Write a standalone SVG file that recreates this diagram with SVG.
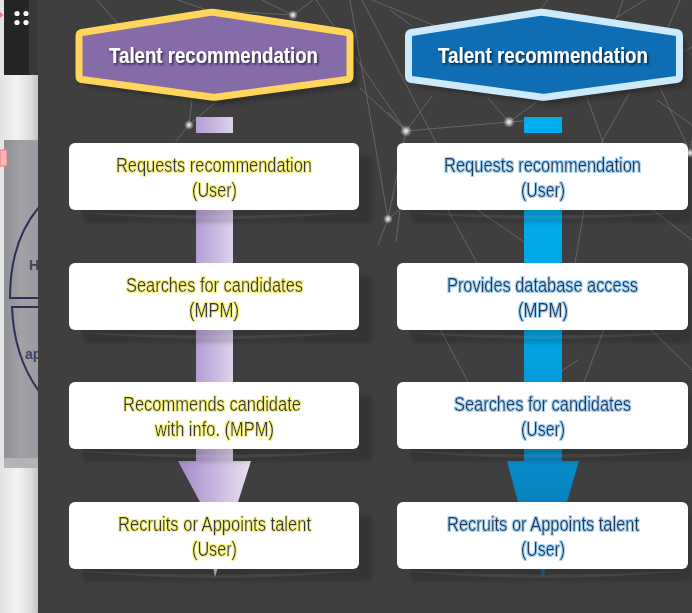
<svg xmlns="http://www.w3.org/2000/svg" width="692" height="613" viewBox="0 0 692 613">
  <defs>
    <style>
      .net { stroke: #8c8c8c; stroke-width: 1; stroke-opacity: 0.5; fill: none; }
      .box { fill: #ffffff; }
      .boxShadow { fill: #000000; fill-opacity: 0.16; }
      .sheen { fill: #ffffff; fill-opacity: 0.08; }
      .title { font-family: "Liberation Sans", Arial, sans-serif; font-weight: bold; font-size: 21.5px; fill: #ffffff; text-anchor: middle; }
      .lbl { font-family: "Liberation Sans", Arial, sans-serif; font-size: 19.5px; text-anchor: middle; }
      .lblL { fill: #383842; }
      .lblR { fill: #27395a; }
    </style>
    <linearGradient id="sideGrad" x1="0" y1="0" x2="1" y2="0">
      <stop offset="0" stop-color="#e2e2e2"/>
      <stop offset="0.45" stop-color="#f3f3f3"/>
      <stop offset="0.8" stop-color="#dedede"/>
      <stop offset="1" stop-color="#c4c4c4"/>
    </linearGradient>
    <linearGradient id="panelGrad" x1="0" y1="0" x2="1" y2="0">
      <stop offset="0" stop-color="#8f8f96"/>
      <stop offset="0.5" stop-color="#a0a0a6"/>
      <stop offset="1" stop-color="#9a9aa0"/>
    </linearGradient>
    <linearGradient id="barL" gradientUnits="userSpaceOnUse" x1="196" y1="0" x2="233" y2="0">
      <stop offset="0" stop-color="#b49dd4"/>
      <stop offset="1" stop-color="#ddd2eb"/>
    </linearGradient>
    <linearGradient id="headL" gradientUnits="userSpaceOnUse" x1="178" y1="0" x2="251" y2="0">
      <stop offset="0" stop-color="#a689c8"/>
      <stop offset="1" stop-color="#e8e1f1"/>
    </linearGradient>
    <linearGradient id="barR" gradientUnits="userSpaceOnUse" x1="0" y1="117" x2="0" y2="576">
      <stop offset="0" stop-color="#00b0f0"/>
      <stop offset="0.5" stop-color="#02a2e2"/>
      <stop offset="0.75" stop-color="#078ccb"/>
      <stop offset="1" stop-color="#066ea4"/>
    </linearGradient>
    <radialGradient id="nodeGlow">
      <stop offset="0" stop-color="#ffffff" stop-opacity="0.95"/>
      <stop offset="0.35" stop-color="#dddddd" stop-opacity="0.8"/>
      <stop offset="1" stop-color="#aaaaaa" stop-opacity="0"/>
    </radialGradient>
    <filter id="soft" x="-10%" y="-10%" width="120%" height="130%">
      <feGaussianBlur stdDeviation="2"/>
    </filter>
    <filter id="titleShadow" x="-5%" y="-30%" width="110%" height="160%">
      <feDropShadow dx="1.5" dy="1.8" stdDeviation="1" flood-color="#000000" flood-opacity="0.65"/>
    </filter>
    <filter id="glowY" x="-5%" y="-30%" width="110%" height="160%">
      <feMorphology in="SourceAlpha" operator="dilate" radius="1" result="d"/>
      <feGaussianBlur in="d" stdDeviation="0.6" result="b"/>
      <feFlood flood-color="#f8f27e"/>
      <feComposite in2="b" operator="in" result="g"/>
      <feMerge><feMergeNode in="g"/><feMergeNode in="SourceGraphic"/></feMerge>
    </filter>
    <filter id="glowB" x="-5%" y="-30%" width="110%" height="160%">
      <feMorphology in="SourceAlpha" operator="dilate" radius="1" result="d"/>
      <feGaussianBlur in="d" stdDeviation="0.7" result="b"/>
      <feFlood flood-color="#a6d6f7"/>
      <feComposite in2="b" operator="in" result="g"/>
      <feMerge><feMergeNode in="g"/><feMergeNode in="SourceGraphic"/></feMerge>
    </filter>
    <path id="hex" d="M 79 36 Q 79 33 82 32.5 L 209 12.5 Q 212 12 215 12.5 L 347 32.5 Q 350 33 350 36 L 350 76 Q 350 79 347 79.5 L 217 97 Q 214 97.5 211 97 L 82 79.5 Q 79 79 79 76 Z"/>
    <clipPath id="panelClip"><rect x="4" y="140" width="34" height="328"/></clipPath>
  </defs>

  <!-- stage background -->
  <rect x="0" y="0" width="692" height="613" fill="#3f3f3f"/>

  <!-- neighbouring window strip on the left -->
  <g id="side-panel">
    <rect x="0" y="0" width="38" height="613" fill="url(#sideGrad)"/>
    <rect x="4" y="0" width="34" height="75" fill="#252525"/>
    <rect x="29" y="0" width="9" height="75" fill="#383838"/>
    <circle cx="17" cy="13.5" r="2.6" fill="#ffffff"/>
    <circle cx="26" cy="13.5" r="2.6" fill="#ffffff"/>
    <circle cx="17" cy="22.5" r="2.6" fill="#ffffff"/>
    <circle cx="26" cy="22.5" r="2.6" fill="#ffffff"/>
    <polygon points="0,12 3.5,15 0,18" fill="#f07a7a"/>
    <rect x="4" y="140" width="34" height="328" fill="url(#panelGrad)"/>
    <rect x="4" y="458" width="34" height="10" fill="#b4b4b8"/>
    <g clip-path="url(#panelClip)">
      <path d="M 40 206 Q 10 240 10 298 L 40 298" fill="none" stroke="#2c3058" stroke-width="2"/>
      <path d="M 40 307 L 12 307 Q 14 360 42 395" fill="none" stroke="#2c3058" stroke-width="2"/>
      <text x="29" y="270" font-family="Liberation Sans, Arial, sans-serif" font-weight="bold" font-size="14" fill="#3e4462">H</text>
      <text x="25" y="359" font-family="Liberation Sans, Arial, sans-serif" font-weight="bold" font-size="14" fill="#3e4462">ap</text>
    </g>
    <rect x="0" y="150" width="7" height="16" fill="#ffb5b5" stroke="#e87878" stroke-width="1"/>
  </g>

  <!-- decorative network behind the chart -->
  <g id="network">
    <g class="net">
      <line x1="97" y1="0" x2="120" y2="26"/>
      <line x1="178" y1="0" x2="207" y2="10"/>
      <line x1="207" y1="10" x2="293" y2="15"/>
      <line x1="293" y1="15" x2="313" y2="0"/>
      <line x1="293" y1="15" x2="262" y2="0"/>
      <line x1="350" y1="0" x2="388" y2="219"/>
      <line x1="316" y1="0" x2="406" y2="131"/>
      <line x1="362" y1="0" x2="440" y2="150"/>
      <line x1="372" y1="0" x2="470" y2="40"/>
      <line x1="360" y1="88" x2="406" y2="131"/>
      <line x1="406" y1="131" x2="388" y2="219"/>
      <line x1="406" y1="131" x2="509" y2="122"/>
      <line x1="509" y1="122" x2="560" y2="118"/>
      <line x1="406" y1="131" x2="432" y2="96"/>
      <line x1="406" y1="131" x2="388" y2="112"/>
      <line x1="509" y1="122" x2="488" y2="98"/>
      <line x1="509" y1="122" x2="542" y2="98"/>
      <line x1="388" y1="219" x2="378" y2="245"/>
      <line x1="388" y1="219" x2="404" y2="206"/>
      <line x1="189" y1="125" x2="192" y2="100"/>
      <line x1="189" y1="125" x2="218" y2="100"/>
      <line x1="189" y1="125" x2="176" y2="141"/>
      <line x1="390" y1="10" x2="412" y2="26"/>
      <line x1="548" y1="0" x2="533" y2="18"/>
      <line x1="617" y1="17" x2="623" y2="0"/>
      <line x1="617" y1="17" x2="645" y2="0"/>
      <line x1="617" y1="17" x2="598" y2="40"/>
      <line x1="667" y1="30" x2="680" y2="0"/>
      <line x1="683" y1="52" x2="692" y2="47"/>
      <line x1="630" y1="92" x2="600" y2="145"/>
      <line x1="660" y1="88" x2="687" y2="145"/>
      <line x1="586" y1="95" x2="604" y2="145"/>
      <line x1="657" y1="100" x2="692" y2="125"/>
      <line x1="689" y1="153" x2="692" y2="140"/>
      <line x1="448" y1="210" x2="477" y2="263"/>
      <line x1="478" y1="210" x2="524" y2="242"/>
      <line x1="584" y1="210" x2="575" y2="263"/>
      <line x1="653" y1="210" x2="692" y2="240"/>
      <line x1="400" y1="210" x2="396" y2="242"/>
      <line x1="560" y1="372" x2="578" y2="360"/>
      <line x1="604" y1="329" x2="584" y2="382"/>
      <line x1="440" y1="329" x2="468" y2="382"/>
      <line x1="650" y1="329" x2="692" y2="370"/>
    </g>
    <g fill="url(#nodeGlow)">
      <circle cx="293" cy="15" r="5"/>
      <circle cx="189" cy="125" r="5"/>
      <circle cx="406" cy="131" r="6"/>
      <circle cx="509" cy="122" r="6"/>
      <circle cx="388" cy="219" r="5"/>
      <circle cx="690" cy="153" r="5"/>
    </g>
  </g>

  <!-- title banners -->
  <g id="title-left">
    <use href="#hex" transform="translate(7,7)" fill="#262626" fill-opacity="0.75" filter="url(#soft)"/>
    <use href="#hex" fill="#866ba9" stroke="#ffd65b" stroke-width="7" stroke-linejoin="round"/>
    <text class="title" x="213.5" y="63" textLength="209" lengthAdjust="spacingAndGlyphs" filter="url(#titleShadow)">Talent recommendation</text>
  </g>
  <g id="title-right">
    <use href="#hex" transform="translate(336.5,7)" fill="#262626" fill-opacity="0.75" filter="url(#soft)"/>
    <use href="#hex" transform="translate(329.5,0)" fill="#0e6db3" stroke="#cdeafc" stroke-width="7" stroke-linejoin="round"/>
    <text class="title" x="543" y="63" textLength="210" lengthAdjust="spacingAndGlyphs" filter="url(#titleShadow)">Talent recommendation</text>
  </g>

  <!-- flow arrows joining the steps -->
  <g id="connectors">
    <rect x="196" y="117" width="37" height="16" fill="url(#barL)"/>
    <rect x="196" y="143" width="37" height="318" fill="url(#barL)"/>
    <polygon points="178,461 251,461 238,502 215,577 200,502" fill="url(#headL)"/>
    <rect x="524" y="117" width="38" height="16" fill="#00aeef"/>
    <rect x="524" y="143" width="38" height="318" fill="url(#barR)"/>
    <polygon points="507,461 579,461 567,502 543,577 518,502" fill="url(#barR)"/>
  </g>

  <!-- purple flow steps -->
  <g id="step-l1">
    <rect class="boxShadow" x="82" y="155" width="291" height="68" rx="6" filter="url(#soft)"/>
    <path class="sheen" d="M 76 212 Q 214 226 356 212 Q 214 219 76 212 Z"/>
    <rect class="box" x="69" y="143" width="290" height="67" rx="6"/>
    <g class="lbl lblL" filter="url(#glowY)">
      <text x="214" y="172" textLength="196" lengthAdjust="spacingAndGlyphs">Requests recommendation</text>
      <text x="214.5" y="197" textLength="45" lengthAdjust="spacingAndGlyphs">(User)</text>
    </g>
  </g>
  <g id="step-l2">
    <rect class="boxShadow" x="82" y="275" width="291" height="68" rx="6" filter="url(#soft)"/>
    <path class="sheen" d="M 76 332 Q 214 346 356 332 Q 214 339 76 332 Z"/>
    <rect class="box" x="69" y="263" width="290" height="67" rx="6"/>
    <g class="lbl lblL" filter="url(#glowY)">
      <text x="214.5" y="292" textLength="177" lengthAdjust="spacingAndGlyphs">Searches for candidates</text>
      <text x="214" y="317" textLength="50" lengthAdjust="spacingAndGlyphs">(MPM)</text>
    </g>
  </g>
  <g id="step-l3">
    <rect class="boxShadow" x="82" y="394" width="291" height="68" rx="6" filter="url(#soft)"/>
    <path class="sheen" d="M 76 451 Q 214 465 356 451 Q 214 458 76 451 Z"/>
    <rect class="box" x="69" y="382" width="290" height="67" rx="6"/>
    <g class="lbl lblL" filter="url(#glowY)">
      <text x="212" y="411" textLength="178" lengthAdjust="spacingAndGlyphs">Recommends candidate</text>
      <text x="214.5" y="436" textLength="119" lengthAdjust="spacingAndGlyphs">with info. (MPM)</text>
    </g>
  </g>
  <g id="step-l4">
    <rect class="boxShadow" x="82" y="514" width="291" height="68" rx="6" filter="url(#soft)"/>
    <path class="sheen" d="M 76 571 Q 214 585 356 571 Q 214 578 76 571 Z"/>
    <rect class="box" x="69" y="502" width="290" height="67" rx="6"/>
    <g class="lbl lblL" filter="url(#glowY)">
      <text x="214.5" y="531" textLength="193" lengthAdjust="spacingAndGlyphs">Recruits or Appoints talent</text>
      <text x="214.5" y="556" textLength="45" lengthAdjust="spacingAndGlyphs">(User)</text>
    </g>
  </g>

  <!-- blue flow steps -->
  <g id="step-r1">
    <rect class="boxShadow" x="410" y="155" width="282" height="68" rx="6" filter="url(#soft)"/>
    <path class="sheen" d="M 404 212 Q 543 226 685 212 Q 543 219 404 212 Z"/>
    <rect class="box" x="397" y="143" width="291" height="67" rx="6"/>
    <g class="lbl lblR" filter="url(#glowB)">
      <text x="542.5" y="172" textLength="197" lengthAdjust="spacingAndGlyphs">Requests recommendation</text>
      <text x="543" y="197" textLength="44" lengthAdjust="spacingAndGlyphs">(User)</text>
    </g>
  </g>
  <g id="step-r2">
    <rect class="boxShadow" x="410" y="275" width="282" height="68" rx="6" filter="url(#soft)"/>
    <path class="sheen" d="M 404 332 Q 543 346 685 332 Q 543 339 404 332 Z"/>
    <rect class="box" x="397" y="263" width="291" height="67" rx="6"/>
    <g class="lbl lblR" filter="url(#glowB)">
      <text x="542.5" y="292" textLength="191" lengthAdjust="spacingAndGlyphs">Provides database access</text>
      <text x="543" y="317" textLength="50" lengthAdjust="spacingAndGlyphs">(MPM)</text>
    </g>
  </g>
  <g id="step-r3">
    <rect class="boxShadow" x="410" y="394" width="282" height="68" rx="6" filter="url(#soft)"/>
    <path class="sheen" d="M 404 451 Q 543 465 685 451 Q 543 458 404 451 Z"/>
    <rect class="box" x="397" y="382" width="291" height="67" rx="6"/>
    <g class="lbl lblR" filter="url(#glowB)">
      <text x="542.5" y="411" textLength="177" lengthAdjust="spacingAndGlyphs">Searches for candidates</text>
      <text x="543" y="436" textLength="44" lengthAdjust="spacingAndGlyphs">(User)</text>
    </g>
  </g>
  <g id="step-r4">
    <rect class="boxShadow" x="410" y="514" width="282" height="68" rx="6" filter="url(#soft)"/>
    <path class="sheen" d="M 404 571 Q 543 585 685 571 Q 543 578 404 571 Z"/>
    <rect class="box" x="397" y="502" width="291" height="67" rx="6"/>
    <g class="lbl lblR" filter="url(#glowB)">
      <text x="543" y="531" textLength="192" lengthAdjust="spacingAndGlyphs">Recruits or Appoints talent</text>
      <text x="543" y="556" textLength="44" lengthAdjust="spacingAndGlyphs">(User)</text>
    </g>
  </g>
</svg>
